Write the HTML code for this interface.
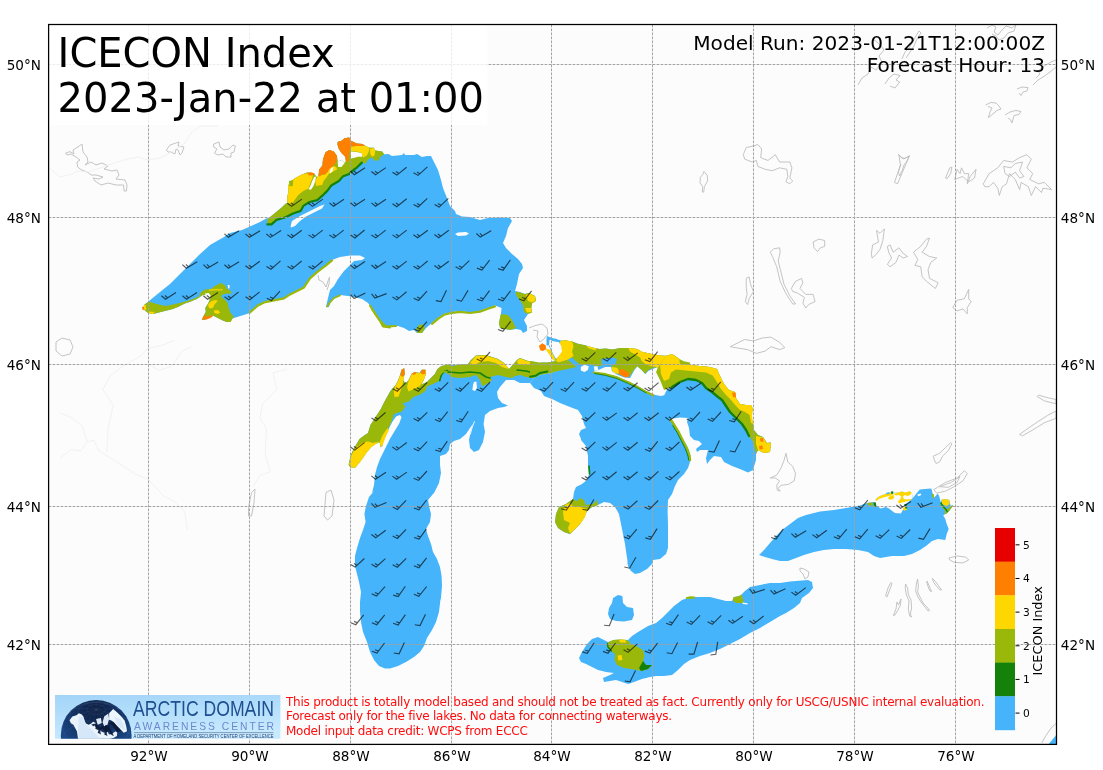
<!DOCTYPE html>
<html lang="en"><head><meta charset="utf-8"><title>ICECON Index</title>
<style>
html,body{margin:0;padding:0;background:#fff;}
body{width:1103px;height:770px;overflow:hidden;}
svg{display:block;will-change:transform;}
text{font-family:"DejaVu Sans","Liberation Sans",sans-serif;fill:#000;}
.tick{font-size:13.6px;}
.grid line{stroke:#a2a2a2;stroke-width:1;stroke-dasharray:2.7 1.3;}
.red text{fill:#ff0d0d;font-size:12px;letter-spacing:-0.24px;}
.logo text{font-family:"Liberation Sans",sans-serif;}
.cbt{font-size:10.67px;}
</style></head><body>
<svg width="1103" height="770" viewBox="0 0 1103 770">
<defs><clipPath id="ax"><rect x="48.6" y="24.5" width="1007.9" height="719.9"/></clipPath>
<linearGradient id="lg" x1="0" x2="0.25" y1="0" y2="1"><stop offset="0" stop-color="#a2d4f8"/><stop offset="1" stop-color="#c8eaff"/></linearGradient>
<radialGradient id="gl" cx="0.5" cy="0.15" r="0.85"><stop offset="0" stop-color="#0e1f42"/><stop offset="0.35" stop-color="#12305f"/><stop offset="0.75" stop-color="#1d4c8c"/><stop offset="1" stop-color="#2f66ad"/></radialGradient>
<clipPath id="lgc"><rect x="55" y="695" width="225.4" height="43.8"/></clipPath>
</defs>
<rect x="48.6" y="24.5" width="1007.9" height="719.9" fill="#fcfcfc"/>
<g clip-path="url(#ax)">

<path d="M65.6 153.0L70.0 151.6L74.0 154.0L73.0 150.0L78.0 147.0L82.0 144.0L83.0 152.0L87.0 157.0L88.0 162.0L85.0 165.0L91.0 162.0L96.0 165.0L102.0 163.0L108.0 166.0L104.0 169.0L112.0 171.0L117.0 170.0L119.0 175.0L116.0 179.0L125.0 180.0L127.0 185.0L126.4 191.0L124.0 191.0L123.6 185.0L116.0 185.0L108.0 183.0L101.0 185.0L95.0 181.0L93.0 178.0L99.0 179.0L103.0 177.0L96.0 175.0L91.0 175.0L88.0 172.4L81.0 169.6L77.6 167.0L77.0 162.0L80.0 160.0L76.0 157.0L71.0 154.0L67.0 155.0ZM166.4 150.0L170.0 145.0L176.0 143.0L179.0 142.0L178.0 146.0L184.0 147.0L182.0 153.0L180.0 155.0L178.0 150.0L176.0 149.0L175.0 154.0L171.0 152.0L168.0 152.0ZM213.6 144.0L219.0 142.0L220.0 147.0L224.0 150.0L229.0 149.0L233.0 145.0L235.4 146.0L234.0 152.0L231.0 153.0L231.0 157.0L226.0 157.0L223.0 154.0L218.0 155.0L214.4 153.0L217.0 149.0L213.6 147.0ZM743.3 154.7L746.2 147.5L753.5 146.0L757.8 144.5L761.6 148.9L760.7 157.6L768.0 160.5L775.3 154.7L779.6 162.0L789.8 162.0L791.9 167.8L789.8 178.0L792.7 180.9L789.8 183.8L786.0 181.8L787.8 176.5L786.9 169.3L779.6 167.8L772.4 170.7L765.1 169.3L757.8 166.4L756.4 160.5L752.0 162.0L744.7 159.1ZM894.5 182.4L897.5 173.6L900.4 164.9L898.9 154.7L903.3 159.1L909.1 156.2L906.2 163.5L901.8 173.6L897.5 183.8ZM945.5 178.0L949.8 167.8L951.9 167.2L950.7 173.6L946.9 178.9ZM954.8 179.5L957.1 169.3L960.0 173.6L961.5 167.8L964.4 173.6L968.7 173.6L967.3 183.8L970.2 176.5L976.0 169.3L974.5 178.0L971.6 180.0L968.7 181.8L965.8 179.5L962.9 176.5L958.5 178.0ZM983.3 183.8L989.1 173.6L997.8 167.8L1003.6 160.5L1012.4 162.0L1019.6 157.6L1026.9 154.7L1031.3 159.1L1026.9 167.8L1032.7 173.6L1029.8 179.5L1038.5 183.8L1044.4 182.4L1051.6 189.6L1042.9 188.2L1041.5 192.5L1035.6 186.7L1031.3 195.5L1028.4 186.7L1021.1 182.4L1019.6 189.6L1015.3 179.5L1009.5 173.6L1006.5 183.8L1002.2 186.7L999.3 195.5L997.8 188.2L993.5 182.4L989.1 186.7L984.7 186.7ZM1003.6 166.4L1010.9 167.8L1015.3 163.5L1022.5 162.0L1019.6 170.7L1024.0 176.5L1019.6 178.0L1015.3 172.2L1009.5 176.5L1005.1 173.6ZM813.1 242.0L818.9 239.1L824.7 240.5L824.7 246.4L820.4 247.8L817.5 251.6L814.0 247.8ZM770.3 252.2L773.8 248.7L779.6 247.8L780.2 252.2L778.2 260.9L781.1 272.5L784.0 284.2L789.8 295.8L795.6 304.0L792.7 304.0L785.5 292.9L780.2 281.3L776.7 266.7L772.4 256.5ZM791.3 288.5L795.6 281.3L801.5 278.4L802.9 282.7L800.0 288.5L805.8 294.4L813.1 294.4L815.1 301.6L808.7 304.5L805.8 308.0L802.9 303.1L804.4 297.3L797.1 292.9L792.7 291.5ZM746.2 278.4L749.1 276.9L750.5 284.2L753.5 291.5L749.1 298.7L747.6 304.5L745.3 301.6L747.1 294.4L746.2 287.1ZM871.3 253.6L872.7 244.9L878.5 242.0L876.5 230.4L880.0 233.3L884.4 228.9L882.9 240.5L880.0 249.3L875.6 255.1L872.1 258.0ZM887.3 246.4L890.2 244.9L893.1 252.2L898.9 247.8L903.3 253.6L907.6 256.5L903.3 258.0L898.9 255.1L896.0 262.4L890.2 266.7L887.3 264.4L891.6 258.0L888.7 252.2ZM913.5 252.2L920.7 246.4L926.5 239.1L929.5 238.2L926.5 246.4L922.2 252.2L929.5 256.5L936.7 258.0L930.9 262.4L928.0 269.6L929.5 278.4L938.2 282.7L935.3 288.5L926.5 281.3L922.2 276.9L920.7 266.7L914.9 265.3L917.8 259.5ZM952.7 307.5L957.1 300.2L964.4 298.7L968.7 289.4L968.7 298.7L971.1 301.6L967.3 307.5L967.3 313.9L962.9 308.9L957.1 310.9ZM736.0 343.8L744.7 339.5L753.5 340.9L762.2 338.0L770.9 337.1L779.6 342.4L784.9 347.6L779.6 349.6L770.9 346.7L765.1 351.1L756.4 353.4L747.6 349.6L738.9 348.2L730.2 346.7ZM770.3 478.0L776.7 475.1L781.1 467.8L784.0 460.5L786.0 453.3L787.8 462.0L792.7 466.4L795.6 473.6L794.2 480.9L788.4 484.4L781.1 485.3L778.2 488.2L780.2 491.1L777.3 490.2L776.7 485.3L779.6 480.9L775.3 478.0ZM933.2 456.2L939.6 453.3L945.5 447.5L950.7 442.5L951.9 443.7L948.4 450.4L942.5 456.2L939.6 462.0L936.1 463.5L934.4 460.0ZM933.8 489.6L945.5 482.4L957.1 478.0L964.4 470.7L967.3 473.6L962.9 480.9L954.2 486.7L945.5 491.1L936.7 493.1ZM939.6 486.7L951.3 482.4L960.0 476.5L957.1 482.4L948.4 487.3ZM1019.6 434.4L1029.8 427.1L1038.5 421.3L1047.3 415.5L1056.0 411.1L1056.0 418.4L1044.4 422.7L1032.7 430.0L1022.5 435.8ZM1037.1 396.5L1044.4 400.9L1056.0 403.8L1056.0 399.5L1048.7 398.0L1038.5 395.1ZM948.9 558.0L957.1 556.0L965.8 557.1L968.7 560.0L962.9 562.9L954.2 562.4L949.8 560.0ZM885.6 596.0L888.0 588.0L891.0 582.4L892.0 583.6L889.6 590.0L887.0 597.0ZM893.4 615.6L896.0 609.0L897.0 602.0L898.4 605.0L901.0 599.0L900.4 605.0L898.0 610.0L895.0 615.0ZM905.6 584.0L907.6 588.0L908.4 595.0L911.0 600.0L911.6 608.0L910.4 614.0L911.6 617.0L909.6 616.0L908.4 609.0L909.0 601.0L906.4 595.0L905.2 588.0ZM917.6 579.0L918.4 586.0L917.6 592.0L920.0 597.0L923.0 603.0L927.0 607.0L929.6 610.4L928.0 611.0L925.0 607.0L921.0 602.0L918.0 597.0L915.6 591.0L916.4 584.0ZM927.0 581.0L928.4 584.0L930.0 588.0L931.6 591.6L930.0 591.0L928.0 586.4L926.8 582.4ZM932.4 578.4L935.0 581.0L938.0 585.0L941.6 590.0L940.0 590.0L936.4 586.0L933.6 582.4ZM858.0 85.0L862.0 78.0L868.0 74.0L871.0 67.0L876.0 70.0L882.0 62.0L879.0 56.0L884.0 50.0L881.0 46.0L876.0 41.0L872.0 39.0M885.0 84.0L889.0 78.0L894.0 74.0L900.0 75.6L896.0 80.0L899.6 82.0L895.0 88.0L890.0 86.0M902.0 59.0L905.0 52.0L909.0 48.0L912.0 43.0L916.0 36.0L919.0 31.0L921.0 33.0L917.0 39.0L914.0 46.0L910.0 52.0L906.0 58.0M987.0 28.0L992.0 25.0L996.0 27.0L994.0 32.0L998.0 35.0L1002.0 30.0L1006.0 26.0L1012.0 28.0L1016.0 25.0L1014.0 31.0L1008.0 33.0L1004.0 38.0L999.0 40.0L996.0 36.0L992.0 34.0M1017.0 89.0L1022.0 87.0L1028.0 87.6L1027.0 91.0L1023.0 92.0L1021.0 95.6L1019.0 93.0M985.6 105.0L991.0 102.4L996.0 103.0L999.0 106.0L1001.0 109.0L997.0 110.4L994.0 113.0L990.0 116.4L988.4 117.6L990.0 112.0L992.0 108.0L988.0 106.4M1005.0 115.0L1010.0 112.0L1016.0 110.4L1021.0 111.6L1019.0 114.4L1014.0 115.6L1012.0 123.0L1010.4 119.6L1008.0 118.0M1033.0 85.0L1038.0 80.0L1044.0 76.4L1050.0 72.0L1056.0 67.0M1036.0 78.0L1040.0 74.0L1038.0 71.0L1044.0 66.0L1051.0 62.0L1056.0 60.0M898.0 154.0L901.0 157.6L905.0 158.4L909.6 155.6L907.0 161.0L904.0 165.0L902.0 171.0L899.6 176.0L898.4 172.0L901.0 164.0M704.0 171.5L707.3 175.5L707.6 180.9L704.5 186.4L703.6 192.2L702.2 191.8L702.7 186.7L700.0 182.7L700.4 177.3L702.7 174.5ZM56.0 342.0L62.0 338.0L70.0 340.0L73.0 347.0L70.0 354.0L62.0 356.0L56.0 351.0ZM248.5 507.5L251.5 492.5L255.0 489.0L254.0 502.5L251.5 516.0L248.5 516.0ZM324.0 516.0L326.0 492.5L331.0 490.0L334.0 500.0L332.0 516.0L327.5 520.0ZM800.0 568.0L804.0 569.0L809.0 572.0L808.0 577.0L805.0 579.0L803.0 574.0L800.0 571.0ZM529.0 328.0L535.0 325.6L542.0 324.0L547.0 328.0L548.0 334.0L544.0 339.0L540.0 342.0L537.0 337.0L538.0 331.0L533.0 330.0M318.0 275.0L319.0 280.0L323.0 282.0L326.0 287.0L328.0 281.0L329.6 277.0L329.0 284.0L327.0 290.0M1041.8 743.0L1045.0 737.0L1049.0 731.0L1052.0 727.0L1056.0 723.6" fill="none" stroke="#bdbdbd" stroke-width="0.9" stroke-linejoin="round"/>
<path d="M48.0 167.0L54.0 172.0L60.0 177.0L72.0 174.0L78.0 171.0L88.0 172.0L100.0 168.0L114.0 163.0L128.0 159.0L138.0 157.0L148.0 160.0L160.0 158.0L168.0 154.0L184.0 144.0L192.0 132.0L200.0 126.0L218.0 126.0M174.3 340.4L161.3 345.6L148.3 348.2L140.5 356.0L122.3 366.4L109.4 376.8L102.9 389.7L113.2 405.3L108.1 428.7L106.8 452.1M191.2 346.9L182.1 350.8L171.7 366.4L158.7 370.3L148.3 363.8M60.0 413.1L70.4 417.0L82.1 426.1L87.3 441.7L93.8 440.4L99.0 450.8L119.7 463.8L135.3 474.2L148.3 479.4L163.9 496.2L174.3 501.4L184.7 511.8L187.3 530.0M60.0 458.6L70.4 449.5L80.8 450.8L87.3 441.7M287.3 369.0L273.0 372.9L276.9 389.7L262.6 404.0L260.0 418.3L266.5 428.7L265.2 454.7L270.4 471.6L260.0 475.5L253.5 485.8" fill="none" stroke="#efefef" stroke-width="0.9"/>
<path d="M1048.3 744.5L1056.5 734.7L1056.5 744.5Z" fill="#46b4fa"/>
<path d="M144.0 305.0 L149.0 301.0 L160.0 292.0 L170.0 284.0 L178.0 276.0 L184.0 270.0 L194.0 260.0 L199.0 255.0 L210.0 245.0 L224.0 237.0 L230.0 233.0 L242.0 230.0 L250.0 226.4 L260.0 222.0 L268.0 217.6 L267.6 219.1 L275.3 212.7 L281.6 207.6 L285.5 203.8 L287.4 203.2 L287.4 196.2 L288.6 191.1 L288.0 186.0 L289.9 182.2 L294.4 178.4 L302.0 174.5 L307.1 172.6 L314.1 173.3 L316.0 176.5 L317.3 177.1 L318.5 175.8 L319.2 169.5 L322.4 165.6 L323.0 159.3 L325.5 152.3 L329.4 150.1 L333.8 151.6 L337.0 156.1 L337.6 161.8 L341.5 159.9 L344.6 163.1 L345.9 161.2 L345.3 156.7 L341.5 152.9 L338.9 149.1 L337.6 145.3 L337.6 142.1 L341.5 140.8 L344.6 138.3 L349.1 137.6 L351.0 140.8 L356.7 143.4 L362.5 144.0 L365.6 145.9 L369.5 147.8 L373.9 147.8 L375.2 150.4 L382.2 151.4 L384.1 154.2 L388.5 153.9 L392.0 156.0 L402.0 155.0 L404.0 153.0 L405.0 155.0 L414.0 155.0 L417.0 154.0 L422.0 157.0 L427.0 156.0 L431.0 156.0 L434.0 162.0 L438.0 170.0 L441.0 180.0 L443.0 188.0 L447.0 198.0 L450.0 206.0 L455.0 211.0 L456.0 214.0 L462.0 216.4 L470.0 217.0 L480.0 220.0 L488.0 218.0 L500.0 217.6 L510.0 218.0 L512.0 221.0 L508.0 228.0 L506.0 236.0 L503.0 243.0 L506.0 248.0 L512.0 254.0 L518.0 259.0 L522.0 264.0 L523.0 268.0 L519.0 274.0 L517.0 284.0 L515.0 291.0 L520.0 292.0 L525.0 294.0 L529.0 293.0 L535.0 296.0 L536.0 300.0 L532.0 303.0 L531.0 308.0 L532.0 312.0 L528.0 314.0 L524.0 320.0 L527.0 326.0 L527.0 331.0 L523.0 333.0 L521.0 330.0 L516.0 329.0 L510.0 330.0 L500.0 328.0 L499.0 323.0 L500.0 318.0 L501.0 313.0 L501.6 308.0 L495.0 305.6 L488.0 308.0 L480.0 311.0 L470.0 312.4 L460.0 311.0 L452.0 312.0 L444.0 314.0 L438.0 318.0 L432.0 323.0 L426.0 328.0 L422.0 333.0 L417.0 333.0 L414.0 330.0 L409.0 331.0 L404.0 328.0 L398.0 326.0 L390.0 327.0 L383.0 326.0 L380.0 320.0 L376.0 314.0 L372.0 308.0 L368.0 303.0 L362.0 299.0 L354.0 297.0 L348.0 296.0 L340.0 295.0 L334.0 298.0 L330.0 303.0 L329.0 307.0 L326.0 307.0 L328.0 298.0 L330.0 290.0 L334.0 286.0 L338.0 279.0 L344.0 271.0 L350.0 265.0 L354.0 261.0 L362.0 260.0 L365.0 258.0 L360.0 255.6 L350.0 255.6 L340.0 257.0 L332.0 260.0 L326.0 265.0 L318.0 271.0 L310.0 278.0 L304.0 287.0 L298.0 290.0 L290.0 294.0 L284.0 298.0 L274.0 300.0 L264.0 302.0 L258.0 305.0 L250.0 312.0 L250.0 313.0 L234.0 318.0 L226.0 321.0 L230.7 321.9 L226.7 321.9 L222.8 320.4 L219.8 318.9 L215.8 316.9 L212.8 315.4 L208.8 317.9 L203.8 319.9 L201.8 319.4 L203.8 315.4 L205.8 311.9 L205.3 307.9 L207.8 303.9 L209.8 299.9 L208.8 296.9 L205.8 294.4 L202.8 294.9 L196.8 298.9 L190.8 301.4 L184.9 303.4 L178.9 306.4 L172.9 308.9 L164.9 310.9 L158.9 312.4 L153.0 313.9 L148.0 312.9 L144.5 309.9 L143.5 307.4Z" fill="#46b4fa" />
<path d="M267.6 219.1 L275.3 212.7 L281.6 207.6 L285.5 203.8 L287.4 203.2 L287.4 196.2 L288.6 191.1 L288.0 186.0 L289.9 182.2 L294.4 178.4 L302.0 174.5 L307.1 172.6 L314.1 173.3 L316.0 176.5 L317.3 177.1 L318.5 175.8 L319.2 169.5 L322.4 165.6 L323.0 159.3 L325.5 152.3 L329.4 150.1 L333.8 151.6 L337.0 156.1 L337.6 161.8 L341.5 159.9 L344.6 163.1 L345.9 161.2 L345.3 156.7 L341.5 152.9 L338.9 149.1 L337.6 145.3 L337.6 142.1 L341.5 140.8 L344.6 138.3 L349.1 137.6 L351.0 140.8 L356.7 143.4 L362.5 144.0 L365.6 145.9 L369.5 147.8 L373.9 147.8 L375.2 150.4 L382.2 151.4 L384.1 154.2 L379.6 157.4 L379.0 160.5 L374.5 160.5 L372.0 157.4 L368.2 159.3 L365.6 163.7 L361.8 161.8 L356.7 166.9 L351.6 170.7 L349.1 173.3 L342.7 175.8 L338.9 180.3 L331.3 184.7 L327.5 189.8 L322.4 194.9 L317.3 199.4 L309.6 201.3 L303.3 205.1 L300.7 210.2 L293.1 212.7 L285.5 216.5 L276.5 219.1 L271.5 223.5 L267.0 224.2Z" fill="#9ab80a" />
<path d="M361.8 162.6 L356.7 167.7 L351.6 171.5 L349.1 174.0 L342.7 176.6 L338.9 181.0 L331.3 185.5 L327.5 190.6 L322.4 195.7 L317.3 200.1 L309.6 202.0 L303.3 205.9 L300.7 210.9 L293.1 213.5 L285.5 217.3 L276.5 219.9 L271.5 224.3 L267.4 224.4" fill="none" stroke="#14820a" stroke-width="2.2" stroke-linejoin="round" stroke-linecap="round" />
<path d="M288.0 186.0 L289.9 182.2 L294.4 178.4 L302.0 174.5 L307.1 173.3 L310.9 172.6 L313.5 173.3 L312.2 178.4 L310.3 183.5 L308.4 188.5 L303.3 191.1 L298.2 194.9 L295.0 199.4 L291.8 203.8 L287.4 203.2 L287.4 196.2 L288.6 191.1Z" fill="#ffd700" />
<path d="M307.1 173.0 L310.9 172.3 L314.1 173.3 L313.5 175.2 L309.0 175.6Z" fill="#ff7f00" />
<path d="M289.0 180.9 L293.3 179.9 L292.8 186.0 L289.5 186.6Z" fill="#9ab80a" />
<path d="M310.3 186.0 L312.2 180.9 L314.1 177.1 L316.0 176.5 L315.4 180.9 L313.5 186.0 L310.9 189.8 L308.4 189.2Z" fill="#fcfcfc" />
<path d="M318.5 175.8 L324.9 174.5 L327.5 172.0 L328.7 168.2 L333.8 166.3 L336.4 166.9 L337.0 169.5 L332.5 172.0 L328.7 173.9 L326.2 177.7 L323.6 180.9 L322.4 184.7 L316.0 186.0 L315.4 180.9 L317.3 177.1Z" fill="#ffd700" />
<path d="M318.5 175.8 L319.2 169.5 L322.4 165.6 L323.0 159.3 L325.5 152.3 L329.4 150.1 L333.8 151.6 L337.0 156.1 L336.4 161.8 L333.8 165.6 L330.0 168.2 L327.5 172.0 L324.9 174.5 L322.4 173.9 L319.8 176.5Z" fill="#ff7f00" />
<path d="M329.4 172.6 L331.0 168.2 L333.6 166.7 L332.8 170.5 L330.6 173.3Z" fill="#fcfcfc" />
<path d="M337.6 161.8 L341.5 159.9 L344.6 163.1 L341.5 166.9 L338.3 166.9Z" fill="#fcfcfc" />
<path d="M351.0 146.5 L356.7 145.9 L365.6 145.9 L369.5 147.8 L368.8 151.6 L366.9 155.5 L363.1 157.4 L361.8 152.9 L356.7 151.6 L351.0 151.0Z" fill="#ffd700" />
<path d="M370.1 149.1 L373.9 147.8 L375.2 150.4 L374.5 155.5 L372.0 156.7 L370.1 153.5Z" fill="#ffd700" />
<path d="M337.6 142.1 L341.5 140.8 L344.6 138.3 L349.1 137.6 L351.0 140.8 L356.7 143.4 L362.5 144.0 L364.4 145.9 L356.7 145.9 L351.0 146.5 L349.7 150.4 L349.1 155.5 L348.5 161.8 L345.9 161.2 L345.3 156.7 L341.5 152.9 L338.9 149.1 L337.6 145.3Z" fill="#ff7f00" />
<path d="M351.0 151.6 L356.7 151.9 L361.8 153.2 L362.5 156.7 L358.0 156.7 L353.5 158.0 L351.0 158.6Z" fill="#fcfcfc" />
<path d="M290.6 226.0 L292.0 221.0 L300.0 216.0 L310.0 211.0 L320.0 206.0 L324.6 204.4 L322.0 208.4 L314.0 212.4 L306.0 216.4 L300.0 221.0 L295.0 226.0 L291.0 227.6Z" fill="#fcfcfc" />
<path d="M455.0 234.0 L458.0 232.4 L466.0 232.0 L469.0 233.6 L466.0 235.6 L458.0 236.0Z" fill="#fcfcfc" />
<path d="M501.0 314.0 L508.0 315.0 L512.0 320.0 L516.0 328.0 L510.0 330.0 L500.0 328.0 L499.0 323.0 L500.0 318.0Z" fill="#9ab80a" />
<path d="M516.0 291.6 L520.0 292.4 L525.0 294.0 L529.0 293.0 L535.0 296.0 L536.0 301.0 L532.0 303.6 L531.4 308.4 L532.0 312.4 L528.0 314.0 L524.0 312.0 L523.0 305.0 L521.0 302.0 L518.0 298.0 L515.6 294.0Z" fill="#9ab80a" />
<path d="M526.0 295.0 L530.0 293.6 L535.0 296.4 L535.6 300.4 L532.0 302.4 L528.0 301.0Z" fill="#ffd700" />
<path d="M525.0 308.0 L531.0 308.0 L531.6 312.0 L527.0 312.4Z" fill="#ffd700" />
<path d="M495.0 306.4 L488.0 308.8 L480.0 311.6 L470.0 313.0 L460.0 311.8 L452.0 312.8 L444.0 314.8 L438.0 318.8 L432.0 323.8" fill="none" stroke="#9ab80a" stroke-width="2.2" stroke-linejoin="round" stroke-linecap="round" />
<path d="M372.0 309.0 L376.0 315.0 L380.0 321.0 L383.0 326.4 L390.0 327.4" fill="none" stroke="#9ab80a" stroke-width="2" stroke-linejoin="round" stroke-linecap="round" />
<path d="M417.0 333.0 L419.0 326.0 L423.0 324.0 L425.0 328.0 L422.0 333.0Z" fill="#9ab80a" />
<path d="M416.0 329.0 L420.0 324.0 L423.0 327.0 L420.0 332.4Z" fill="#9ab80a" />
<path d="M370.0 305.6 L375.0 313.6 L380.0 320.6 L386.0 326.4 L396.0 326.0" fill="none" stroke="#9ab80a" stroke-width="2" stroke-linejoin="round" stroke-linecap="round" />
<path d="M332.0 260.4 L326.0 265.4 L318.0 271.4 L310.0 278.4 L304.0 287.4 L298.0 290.4 L290.0 294.4 L284.0 298.4 L274.0 300.4 L264.0 302.4 L258.0 305.4 L250.0 312.4" fill="none" stroke="#9ab80a" stroke-width="2.2" stroke-linejoin="round" stroke-linecap="round" />
<path d="M327.0 306.6 L330.0 302.4 L334.0 298.0 L340.0 295.4" fill="none" stroke="#9ab80a" stroke-width="1.8" stroke-linejoin="round" stroke-linecap="round" />
<path d="M144.5 304.4 L149.0 301.4 L154.9 303.4 L160.9 304.9 L165.9 305.9 L172.9 304.4 L179.9 302.9 L186.9 300.9 L192.8 298.9 L198.8 296.4 L200.8 292.4 L204.8 289.4 L210.8 288.9 L214.8 286.0 L220.8 283.0 L224.8 285.0 L226.7 288.4 L231.2 291.4 L230.7 293.9 L226.7 293.4 L222.8 294.4 L220.8 296.4 L224.8 299.4 L227.7 302.9 L228.7 307.9 L230.7 312.9 L233.7 316.4 L230.7 321.9 L226.7 321.9 L222.8 320.4 L219.8 318.9 L215.8 316.9 L212.8 315.4 L208.8 317.9 L203.8 319.9 L201.8 319.4 L203.8 315.4 L205.8 311.9 L205.3 307.9 L207.8 303.9 L209.8 299.9 L208.8 296.9 L205.8 294.4 L202.8 294.9 L196.8 298.9 L190.8 301.4 L184.9 303.4 L178.9 306.4 L172.9 308.9 L164.9 310.9 L158.9 312.4 L153.0 313.9 L148.0 312.9 L144.5 309.9 L143.5 307.4Z" fill="#9ab80a" />
<path d="M148.5 311.4 L154.9 311.9 L153.0 313.9 L149.0 313.1Z" fill="#ffd700" />
<path d="M144.0 304.9 L145.8 305.1 L146.2 309.9 L144.5 309.7 L143.6 307.4Z" fill="#ffd700" />
<path d="M142.0 307.1 L143.8 306.7 L144.2 309.7 L142.6 309.9Z" fill="#ff7f00" />
<path d="M208.3 303.9 L211.8 300.9 L215.8 299.9 L217.8 300.9 L214.8 303.9 L212.8 307.9 L209.8 308.4 L208.3 306.4Z" fill="#ffd700" />
<path d="M213.8 310.4 L217.8 309.9 L220.3 312.4 L217.8 313.9 L214.3 312.9Z" fill="#ffd700" />
<path d="M202.0 319.4 L204.8 313.9 L205.8 316.9 L212.8 314.9 L212.3 316.9 L206.8 319.4Z" fill="#ff7f00" />
<path d="M208.8 289.4 L214.8 288.7 L222.8 289.1 L222.6 290.4 L214.8 290.4 L209.3 291.1Z" fill="#ffd700" opacity="0.7"/>
<path d="M204.8 293.4 L208.8 293.1 L210.8 296.1 L209.3 298.9 L206.8 296.1Z" fill="#fcfcfc" />
<path d="M227.7 285.0 L229.5 285.0 L229.5 288.4 L228.2 288.4Z" fill="#fcfcfc" />
<path d="M348.6 464.8 L350.9 454.7 L354.8 446.9 L359.5 439.1 L363.4 436.0 L368.0 432.9 L370.4 425.1 L374.3 418.9 L380.5 409.5 L385.2 400.2 L390.6 390.8 L395.3 385.4 L397.6 381.5 L400.0 375.3 L401.5 369.8 L404.2 368.2 L404.7 373.7 L403.1 379.9 L405.4 383.8 L408.6 379.9 L411.7 373.7 L414.8 372.1 L419.5 372.9 L421.8 369.8 L425.4 369.8 L425.7 374.5 L423.4 380.7 L421.0 384.6 L426.5 382.3 L430.4 378.4 L435.0 373.7 L437.4 369.0 L441.3 365.9 L450.0 364.3 L452.0 365.0 L468.0 364.0 L471.0 360.0 L476.0 355.6 L486.0 355.0 L492.0 357.0 L498.0 359.0 L504.0 363.0 L509.0 369.0 L517.0 360.0 L520.0 358.0 L528.0 361.0 L536.0 362.0 L544.0 365.0 L552.0 366.0 L560.0 365.6 L560.0 370.0 L552.0 373.0 L540.0 375.0 L534.0 378.0 L530.0 383.0 L520.0 383.0 L514.0 380.0 L506.0 380.0 L500.0 387.0 L497.0 392.0 L498.0 398.0 L502.0 403.0 L508.0 405.6 L504.0 407.0 L498.0 408.0 L490.0 411.0 L485.0 415.0 L483.6 424.0 L485.0 432.0 L483.0 442.0 L479.0 450.0 L474.0 452.0 L470.0 448.0 L469.0 440.0 L471.0 430.0 L473.0 424.0 L470.0 428.0 L466.0 434.0 L460.0 439.0 L454.0 441.0 L450.0 444.0 L449.0 450.0 L446.0 454.0 L440.0 456.0 L440.0 465.0 L441.0 473.0 L439.0 483.0 L434.0 493.0 L433.0 494.0 L428.0 500.0 L429.0 506.0 L431.0 514.0 L430.0 522.0 L426.0 529.0 L428.0 536.0 L431.0 544.0 L433.0 552.0 L437.0 559.0 L440.0 567.0 L441.6 576.0 L442.0 586.0 L441.0 598.0 L440.4 600.0 L439.0 612.0 L436.0 622.0 L432.0 630.0 L427.0 638.0 L424.0 646.0 L420.0 652.0 L414.0 657.0 L406.0 662.0 L398.0 666.0 L390.0 668.4 L385.0 668.4 L379.0 666.0 L374.0 660.0 L370.0 652.0 L367.0 642.0 L363.0 632.0 L361.0 622.0 L360.0 612.0 L360.0 600.0 L360.0 602.0 L361.0 592.0 L359.0 582.0 L357.0 574.0 L355.0 566.0 L355.0 556.0 L357.0 548.0 L360.0 538.0 L363.0 530.0 L365.6 522.0 L364.4 514.0 L366.0 506.0 L369.0 497.0 L375.0 490.0 L372.0 493.0 L374.0 485.0 L375.0 475.0 L377.0 467.0 L380.0 459.0 L385.2 448.5 L389.9 439.1 L394.5 431.3 L399.2 423.6 L401.5 417.3 L400.0 415.0 L396.1 416.5 L392.2 422.0 L388.3 429.8 L384.4 439.1 L380.8 447.7 L379.7 442.3 L375.8 443.8 L371.2 446.9 L366.5 452.4 L361.8 459.4 L355.6 467.2 L350.9 468.0Z" fill="#46b4fa" />
<path d="M348.6 464.8 L350.9 454.7 L354.8 446.9 L359.5 439.1 L363.4 436.0 L368.0 432.9 L370.4 425.1 L374.3 418.9 L380.5 409.5 L385.2 400.2 L390.6 390.8 L395.3 385.4 L397.6 381.5 L400.0 375.3 L401.5 369.8 L404.2 368.2 L404.7 373.7 L403.1 379.9 L405.4 383.8 L408.6 379.9 L411.7 373.7 L414.8 372.1 L419.5 372.9 L421.8 369.8 L425.4 369.8 L425.7 374.5 L423.4 380.7 L421.0 384.6 L426.5 382.3 L430.4 378.4 L435.0 373.7 L437.4 369.0 L441.3 365.9 L450.0 364.3 L450.0 369.8 L444.4 370.6 L441.3 375.3 L439.7 380.7 L433.5 383.8 L427.3 386.2 L424.9 391.6 L419.5 394.7 L413.2 397.1 L408.6 401.7 L402.3 403.3 L405.4 406.4 L401.5 411.9 L396.1 415.0 L393.0 417.3 L391.4 422.0 L388.3 428.2 L383.6 434.5 L382.1 439.1 L382.8 445.4 L380.8 446.9 L379.7 442.3 L375.8 443.8 L371.2 446.9 L366.5 452.4 L361.8 459.4 L355.6 467.2 L350.9 468.0Z" fill="#9ab80a" />
<path d="M349.3 464.1 L351.7 454.7 L355.6 447.7 L363.4 442.3 L368.0 441.5 L372.7 443.0 L379.7 441.5 L375.8 444.1 L371.2 447.2 L366.5 452.7 L361.8 459.7 L355.6 467.2 L350.9 468.0Z" fill="#ffd700" />
<path d="M379.7 442.3 L382.1 436.0 L385.2 431.3 L387.5 428.2 L389.1 429.8 L386.0 436.0 L382.8 444.6 L380.8 446.9Z" fill="#ffd700" />
<path d="M395.3 386.2 L398.4 380.7 L400.0 375.3 L404.2 376.8 L403.1 380.7 L402.3 386.2 L400.0 392.4 L398.4 396.8 L394.5 397.1 L393.8 391.6Z" fill="#ffd700" />
<path d="M408.6 380.7 L411.7 374.5 L414.8 372.5 L419.5 373.4 L425.4 370.6 L425.7 374.5 L423.4 380.7 L419.5 386.2 L414.8 388.5 L408.6 391.6 L407.0 386.9Z" fill="#ffd700" />
<path d="M400.5 375.3 L401.7 369.8 L404.2 368.2 L404.7 374.5 L402.3 376.8Z" fill="#ff7f00" />
<path d="M412.0 373.7 L414.8 371.8 L416.3 373.7 L413.2 374.9Z" fill="#ff7f00" />
<path d="M420.7 372.9 L422.0 369.8 L425.4 369.8 L425.4 373.7 L422.6 374.5Z" fill="#ff7f00" />
<path d="M393.0 415.0 L396.9 413.0 L401.5 411.4 L402.0 413.4 L396.1 416.1 L393.8 417.6Z" fill="#46b4fa" />
<path d="M439.7 380.7 L441.3 375.3 L444.4 371.0 L449.1 370.3" fill="none" stroke="#14820a" stroke-width="1.5" stroke-linejoin="round" stroke-linecap="round" />
<path d="M446.0 364.6 L452.0 366.0 L460.0 364.6 L468.0 364.0 L468.0 364.0 L471.0 360.0 L476.0 355.6 L486.0 355.0 L492.0 357.0 L498.0 359.0 L504.0 363.0 L509.0 369.0 L517.0 360.0 L520.0 358.0 L528.0 361.0 L536.0 362.0 L544.0 365.0 L552.0 366.0 L560.0 365.6 L570.0 366.0 L578.0 367.0 L570.0 369.0 L560.0 370.0 L552.0 373.0 L540.0 375.0 L534.0 378.0 L526.0 377.0 L520.0 375.0 L515.0 376.0 L512.0 378.0 L506.0 377.0 L498.0 375.0 L490.0 377.0 L492.0 380.0 L487.0 384.0 L482.0 386.0 L480.0 380.0 L476.0 375.0 L470.0 377.0 L460.0 378.0 L451.0 377.0 L448.0 371.0 L440.0 370.0 L434.0 382.0 L438.0 377.0 L444.0 372.0 L450.0 375.0Z" fill="#9ab80a" />
<path d="M470.0 363.0 L476.0 356.0 L486.0 355.4 L492.0 357.4 L498.0 359.4 L504.0 363.4 L509.0 369.0 L502.0 367.0 L496.0 363.0 L488.0 361.0 L480.0 362.0 L474.0 365.0Z" fill="#ffd700" />
<path d="M517.0 361.0 L520.0 358.4 L528.0 361.4 L536.0 362.4 L535.0 364.4 L526.0 364.4 L518.0 364.0Z" fill="#ffd700" />
<path d="M448.0 372.0 L460.0 373.0 L470.0 372.0 L480.0 373.0 L486.0 377.0 L490.0 378.0" fill="none" stroke="#14820a" stroke-width="1.6" stroke-linejoin="round" stroke-linecap="round" />
<path d="M517.0 370.0 L526.0 371.0 L534.0 373.0 L540.0 372.0" fill="none" stroke="#14820a" stroke-width="1.6" stroke-linejoin="round" stroke-linecap="round" />
<path d="M474.0 382.0 L476.4 381.6 L477.0 388.0 L475.0 391.0 L472.4 390.0 L473.0 385.0Z" fill="#fcfcfc" />
<path d="M474.4 421.6 L472.0 428.0 L470.4 434.0" fill="none" stroke="#fcfcfc" stroke-width="0.9" stroke-linejoin="round" stroke-linecap="round" />
<path d="M560.0 365.6 L560.0 370.0 L552.0 373.0 L540.0 375.0 L534.0 378.0 L530.0 383.0 L534.0 388.0 L541.0 391.0 L544.0 396.0 L552.0 399.0 L560.0 403.0 L570.0 407.0 L578.0 410.0 L582.0 416.0 L584.0 424.0 L586.0 428.0 L581.0 430.0 L579.0 434.0 L581.0 439.0 L581.0 440.0 L586.0 446.0 L588.0 456.0 L588.0 466.0 L589.0 474.0 L587.0 480.0 L582.0 484.0 L576.0 487.0 L574.0 492.0 L573.0 499.0 L566.0 504.0 L559.0 507.0 L556.0 514.0 L555.0 522.0 L558.0 528.0 L564.0 532.0 L570.0 534.0 L575.0 529.0 L580.0 524.0 L584.0 518.0 L587.0 511.0 L592.0 507.0 L598.0 505.0 L604.0 502.0 L610.0 503.0 L615.0 507.0 L619.0 514.0 L621.0 524.0 L623.0 534.0 L625.0 544.0 L626.4 554.0 L628.0 564.0 L630.0 571.0 L627.0 560.0 L628.0 566.0 L631.0 571.0 L635.0 574.0 L640.0 573.0 L647.0 569.0 L652.0 564.0 L653.0 560.0 L638.0 573.0 L646.0 569.0 L651.0 564.0 L653.0 560.0 L660.0 559.0 L666.0 554.0 L668.0 548.0 L668.0 536.0 L668.0 524.0 L667.6 512.0 L668.0 500.0 L672.0 494.0 L675.0 486.0 L678.0 480.0 L684.0 474.0 L688.0 468.0 L690.0 462.0 L690.4 456.0 L689.0 450.0 L686.0 444.0 L683.0 440.0 L690.4 462.0 L690.0 456.0 L687.0 448.0 L683.0 440.0 L679.0 432.0 L674.0 424.0 L670.0 419.0 L673.0 418.4 L680.0 417.6 L688.0 418.0 L687.0 422.0 L689.0 428.0 L690.0 436.0 L694.0 440.0 L699.0 441.0 L702.0 444.0 L696.0 449.0 L697.0 452.0 L700.0 450.0 L708.0 450.0 L706.0 458.0 L707.0 464.0 L710.0 460.0 L714.0 456.0 L721.0 457.0 L724.0 462.0 L732.0 466.0 L740.0 469.0 L748.0 472.4 L753.0 470.0 L756.0 460.0 L756.0 454.0 L758.0 450.0 L764.0 453.0 L770.0 452.0 L771.0 442.4 L767.0 443.0 L763.0 437.0 L758.0 435.0 L754.0 430.0 L753.0 424.0 L751.0 416.0 L753.0 409.0 L751.0 405.0 L746.0 405.0 L740.0 404.0 L736.0 398.0 L735.0 392.0 L729.0 390.0 L724.0 384.0 L720.0 376.0 L717.0 369.0 L710.0 367.0 L700.0 366.0 L690.0 365.0 L680.0 364.0 L679.0 359.0 L672.0 354.0 L666.0 356.0 L656.0 357.0 L646.0 354.0 L636.0 350.0 L630.0 348.0 L620.0 349.0 L679.4 359.0 L675.1 356.1 L671.4 353.9 L669.3 356.1 L660.6 355.4 L651.8 353.9 L641.7 351.8 L637.3 348.9 L628.6 348.1 L619.9 348.1 L612.7 349.6 L605.4 348.6 L599.6 348.9 L592.4 347.4 L585.1 345.2 L577.9 343.8 L572.1 341.6 L564.8 340.2 L559.7 340.9 L556.1 338.7 L551.8 338.0 L547.4 336.5 L546.7 340.2 L548.1 344.5 L550.3 348.9 L551.8 354.7 L554.7 361.2 L547.4 362.6 L538.7 362.6 L530.0 361.2Z" fill="#46b4fa" />
<path d="M559.7 340.9 L564.8 340.2 L572.1 341.6 L577.9 343.8 L585.1 345.2 L592.4 347.4 L599.6 348.9 L605.4 348.6 L612.7 349.6 L619.9 348.1 L628.6 348.1 L637.3 348.9 L641.7 351.8 L651.8 353.9 L660.6 355.4 L669.3 356.1 L671.4 353.9 L675.1 356.1 L679.4 359.0 L683.8 361.2 L690.0 362.6 L690.0 377.9 L683.8 377.9 L675.1 380.0 L669.3 378.6 L664.2 381.5 L662.0 376.4 L658.4 372.1 L656.9 367.0 L651.8 368.4 L647.5 370.6 L645.3 373.5 L641.7 369.9 L637.3 366.3 L634.4 369.2 L631.5 373.5 L628.6 377.1 L617.0 373.5 L612.0 370.6 L611.2 366.3 L605.4 364.1 L599.6 366.3 L593.8 365.5 L589.5 364.1 L583.7 364.8 L579.3 364.1 L575.7 361.2 L572.1 357.6 L567.7 359.7 L559.0 362.6 L554.7 361.2 L557.6 354.7 L559.7 347.4Z" fill="#9ab80a" />
<path d="M559.7 340.9 L564.8 340.2 L572.1 341.6 L573.5 346.0 L572.1 351.8 L573.5 356.1 L567.7 359.7 L559.0 362.6 L556.1 361.2 L558.3 354.7 L560.5 348.9Z" fill="#ffd700" />
<path d="M545.2 348.9 L550.3 349.6 L553.2 354.7 L556.1 361.2 L551.8 359.0 L548.9 353.9Z" fill="#ffd700" />
<path d="M539.0 345.7 L542.3 343.3 L545.7 345.2 L546.2 349.1 L543.1 351.0 L540.2 350.3Z" fill="#ff7f00" />
<path d="M586.6 345.7 L592.4 347.4 L596.7 348.6 L595.3 350.3 L588.0 348.1Z" fill="#ffd700" />
<path d="M628.6 348.1 L637.3 348.9 L641.7 351.8 L651.8 353.9 L660.6 355.4 L669.3 356.1 L671.4 353.9 L675.1 356.1 L679.4 359.0 L679.4 364.1 L673.6 365.5 L671.4 373.5 L669.3 378.6 L664.2 381.5 L662.0 376.4 L658.4 372.1 L656.9 367.0 L651.8 366.3 L646.0 364.8 L641.7 361.2 L640.2 357.6 L634.4 353.9 L630.1 351.8Z" fill="#ffd700" />
<path d="M641.7 361.2 L646.0 364.8 L648.9 364.1 L647.5 370.6 L645.3 373.5 L641.7 369.9 L638.1 366.3 L638.8 362.6Z" fill="#9ab80a" />
<path d="M618.5 369.9 L622.8 368.9 L626.5 371.3 L629.4 373.5 L628.6 377.6 L624.3 377.1 L619.2 374.2Z" fill="#ff7f00" />
<path d="M612.0 367.0 L617.0 367.7 L618.5 369.9 L618.8 373.5 L615.6 373.5 L612.4 371.3Z" fill="#ffd700" />
<path d="M601.1 359.0 L606.9 358.3 L613.4 357.6 L617.0 359.0 L615.6 364.1 L611.2 366.3 L605.4 364.1 L601.8 364.8Z" fill="#46b4fa" />
<path d="M549.6 339.6 L559.0 342.2 L561.2 346.0 L561.9 351.8 L559.0 355.4 L556.1 359.0 L553.2 353.9 L551.0 348.9 L549.1 344.5Z" fill="#fcfcfc" />
<path d="M547.4 344.5 L547.7 337.3 L553.2 340.2 L559.7 340.9" fill="none" stroke="#46b4fa" stroke-width="2" stroke-linejoin="round" stroke-linecap="round" />
<path d="M593.8 371.3 L598.2 369.9 L605.4 367.0 L611.2 367.0 L612.0 371.3 L616.3 374.2 L624.3 377.6 L630.1 377.9 L634.4 369.9 L637.3 366.6 L641.7 370.3 L645.3 374.2 L648.2 370.9 L652.6 368.9 L656.9 367.4 L658.8 372.8 L662.3 377.1 L664.2 381.9 L668.5 379.3 L672.9 378.6 L671.4 384.4 L667.1 389.5 L664.2 395.3 L660.6 396.0 L653.3 394.6 L646.0 390.9 L637.3 385.8 L628.6 381.5 L617.0 376.4 L605.4 373.5 L593.8 372.1Z" fill="#fcfcfc" />
<path d="M580.8 367.0 L584.4 364.8 L588.7 366.3 L588.0 369.9 L584.4 372.1 L580.8 370.6Z" fill="#fcfcfc" />
<path d="M593.8 366.6 L597.5 366.3 L598.2 369.9 L594.6 370.9Z" fill="#fcfcfc" />
<path d="M593.8 372.5 L605.4 374.2 L617.0 377.4 L628.6 382.5 L637.3 386.9 L646.0 391.9 L653.3 395.3" fill="none" stroke="#9ab80a" stroke-width="2.2" stroke-linejoin="round" stroke-linecap="round" />
<path d="M594.6 373.5 L605.4 375.4 L617.0 378.6 L628.6 383.7 L637.3 388.0 L646.0 392.8" fill="none" stroke="#14820a" stroke-width="0.9" stroke-linejoin="round" stroke-linecap="round" />
<path d="M530.0 361.2 L538.7 362.6 L547.4 362.6 L554.7 361.2 L559.0 362.6 L567.7 359.7 L576.4 367.0 L566.3 369.2 L556.1 371.3 L547.4 372.1 L540.2 373.5 L535.8 376.4 L530.0 377.9Z" fill="#9ab80a" />
<path d="M530.0 376.7 L535.8 375.7 L540.2 372.9 L547.4 371.5" fill="none" stroke="#14820a" stroke-width="2" stroke-linejoin="round" stroke-linecap="round" />
<path d="M666.0 356.0 L672.0 354.0 L679.0 359.0 L680.0 364.0 L690.0 365.0 L700.0 366.0 L710.0 367.0 L717.0 369.0 L720.0 376.0 L724.0 384.0 L729.0 390.0 L735.0 392.0 L736.0 398.0 L740.0 404.0 L746.0 405.0 L751.0 405.0 L753.0 409.0 L751.0 416.0 L753.0 424.0 L754.0 430.0 L758.0 435.0 L763.0 437.0 L767.0 443.0 L771.0 442.4 L770.0 452.0 L764.0 453.0 L758.0 450.0 L756.0 454.0 L754.0 446.0 L752.0 440.0 L749.0 436.0 L746.0 430.0 L742.0 424.0 L736.0 418.0 L730.0 412.0 L726.0 406.0 L722.0 400.0 L718.0 397.0 L712.0 392.0 L706.0 388.0 L702.0 383.0 L696.0 380.0 L688.0 379.0 L680.0 382.0 L672.0 387.0 L664.0 390.0 L660.0 380.0 L656.0 372.0 L660.0 364.0Z" fill="#9ab80a" />
<path d="M660.0 364.0 L666.0 356.0 L672.0 354.0 L679.0 359.0 L680.0 364.0 L690.0 365.0 L700.0 366.0 L710.0 367.0 L717.0 369.0 L720.0 376.0 L724.0 384.0 L729.0 390.0 L735.0 392.0 L736.0 398.0 L740.0 404.0 L746.0 405.0 L751.0 405.0 L753.0 409.0 L752.0 416.0 L753.6 424.0 L751.0 423.0 L749.6 415.0 L745.0 412.0 L740.0 410.0 L736.0 406.0 L731.0 400.0 L725.6 394.4 L720.6 388.4 L716.6 381.4 L712.6 375.6 L706.0 372.6 L696.0 371.6 L686.0 370.6 L676.0 369.6 L671.0 372.4 L669.0 379.0 L664.0 381.0 L661.0 374.0Z" fill="#ffd700" />
<path d="M749.0 436.0 L746.0 430.0 L742.0 424.0 L736.0 418.0 L730.0 412.0 L726.0 406.0 L722.0 400.0 L718.0 397.0 L712.0 392.0 L706.0 388.0 L702.0 383.0 L696.0 380.0 L688.0 379.0 L680.0 382.0 L672.0 387.0" fill="none" stroke="#14820a" stroke-width="2.4" stroke-linejoin="round" stroke-linecap="round" />
<path d="M756.0 436.0 L763.0 437.4 L767.0 443.4 L771.0 442.8 L770.0 452.0 L764.0 453.0 L758.0 450.0 L756.0 444.0Z" fill="#ffd700" />
<path d="M732.0 392.4 L735.6 392.4 L736.0 397.6 L733.0 397.0Z" fill="#ff7f00" />
<path d="M760.0 438.0 L763.0 438.0 L763.6 442.0 L760.4 441.6Z" fill="#ff7f00" />
<path d="M759.0 446.0 L762.4 445.6 L763.0 449.0 L759.6 449.6Z" fill="#ff7f00" />
<path d="M690.0 460.0 L689.6 456.0 L686.6 448.0 L682.6 440.0 L678.6 432.0 L673.6 424.0 L671.0 420.0" fill="none" stroke="#9ab80a" stroke-width="2.4" stroke-linejoin="round" stroke-linecap="round" />
<path d="M688.6 460.0 L688.0 456.0 L685.2 448.4 L681.2 440.6 L677.4 433.0 L672.8 425.6" fill="none" stroke="#14820a" stroke-width="1" stroke-linejoin="round" stroke-linecap="round" />
<path d="M573.0 499.0 L566.0 504.0 L559.0 507.0 L556.0 514.0 L555.0 522.0 L558.0 528.0 L564.0 532.0 L570.0 534.0 L575.0 529.0 L580.0 524.0 L584.0 518.0 L587.0 511.0 L592.0 507.0 L598.0 505.0 L597.0 500.0 L593.0 504.0 L585.6 505.0 L584.0 500.0 L580.0 498.0 L577.0 501.0Z" fill="#9ab80a" />
<path d="M565.0 505.0 L570.0 503.0 L573.0 507.0 L580.0 507.0 L587.0 509.0 L585.0 517.0 L580.0 524.0 L575.0 529.0 L570.0 533.6 L568.0 528.0 L570.0 523.0 L564.0 520.0 L563.0 512.0Z" fill="#ffd700" />
<path d="M589.0 466.0 L589.6 474.0" fill="none" stroke="#14820a" stroke-width="1.6" stroke-linejoin="round" stroke-linecap="round" />
<path d="M579.0 658.0 L582.0 652.0 L587.0 644.0 L592.0 639.0 L598.0 637.0 L604.0 640.0 L608.0 642.0 L614.0 640.0 L620.0 639.6 L628.0 640.0 L632.0 636.0 L638.0 632.0 L648.0 626.0 L656.0 623.0 L662.0 618.0 L668.0 612.0 L674.0 606.0 L682.0 600.0 L690.0 597.0 L700.0 597.0 L710.0 597.0 L718.0 599.0 L726.0 601.0 L732.0 601.0 L734.0 597.0 L739.0 596.0 L741.6 594.4 L744.4 591.6 L750.0 587.0 L760.0 585.0 L770.0 583.0 L780.0 583.0 L790.0 581.6 L796.0 581.0 L808.0 580.0 L812.0 582.0 L813.0 588.0 L809.0 593.0 L802.0 598.0 L800.0 603.0 L794.0 608.0 L786.0 613.0 L780.0 616.0 L770.0 622.0 L760.0 628.0 L750.0 633.0 L740.0 639.0 L730.0 644.0 L720.0 649.0 L710.0 653.0 L700.0 656.0 L690.0 660.0 L684.0 664.0 L678.0 670.0 L672.0 675.0 L664.0 676.0 L656.0 676.0 L650.0 677.0 L642.0 679.0 L634.0 682.0 L628.0 684.0 L622.0 682.0 L616.0 680.0 L610.0 681.0 L604.0 682.0 L603.0 678.0 L610.0 675.0 L614.0 673.0 L606.0 672.0 L598.0 670.0 L592.0 667.0 L586.0 664.0 L581.0 662.0Z" fill="#46b4fa" />
<path d="M607.0 643.0 L613.0 640.0 L620.0 639.6 L628.0 640.4 L631.0 644.0 L638.0 647.0 L643.0 650.0 L644.4 656.0 L643.0 662.0 L646.0 665.0 L652.0 665.0 L648.0 669.0 L642.0 671.0 L634.0 669.6 L624.0 668.0 L617.0 665.0 L614.4 660.0 L615.0 654.0 L611.0 651.0 L607.0 647.0Z" fill="#9ab80a" />
<path d="M643.0 661.0 L646.0 665.0 L652.0 665.0 L648.0 669.0 L641.0 671.0 L639.0 668.0Z" fill="#14820a" />
<path d="M607.4 643.6 L608.0 647.0 L611.4 651.0" fill="none" stroke="#14820a" stroke-width="1.4" stroke-linejoin="round" stroke-linecap="round" />
<path d="M619.0 639.6 L625.0 639.6 L626.4 642.4 L620.0 642.4Z" fill="#ffd700" />
<path d="M617.6 655.6 L621.6 655.0 L622.4 660.0 L618.4 660.4Z" fill="#ffd700" />
<path d="M733.0 597.6 L739.0 596.0 L741.6 594.8 L743.2 600.0 L743.6 603.0 L736.0 603.0 L733.0 601.0Z" fill="#9ab80a" />
<path d="M742.4 602.4 L747.6 603.2 L747.8 604.6 L742.8 604.0Z" fill="#fcfcfc" />
<path d="M686.0 597.2 L690.0 596.2 L695.0 596.6 L695.0 598.4 L686.0 599.0Z" fill="#9ab80a" />
<path d="M618.0 595.0 L622.4 596.0 L623.0 603.0 L627.0 607.0 L633.0 608.0 L634.0 615.0 L632.0 620.0 L624.0 621.6 L616.0 621.0 L610.0 619.0 L608.0 614.0 L609.0 608.0 L612.0 603.0 L613.0 598.0Z" fill="#46b4fa" />
<path d="M759.0 555.0 L764.0 550.0 L770.0 543.0 L776.0 536.0 L782.0 530.0 L790.0 524.0 L798.0 518.0 L806.0 515.0 L820.0 511.6 L834.0 510.0 L846.0 508.0 L852.0 507.0 L860.0 505.6 L864.0 503.9 L868.0 502.7 L874.9 502.1 L875.4 499.4 L878.9 496.5 L884.9 494.0 L887.9 493.0 L891.9 492.5 L897.9 492.5 L901.9 491.5 L905.9 492.5 L909.4 491.2 L911.8 492.5 L912.8 498.0 L916.8 493.0 L919.8 489.5 L924.8 489.0 L931.3 488.5 L932.3 492.0 L933.8 498.0 L937.8 493.5 L939.3 496.5 L940.8 502.4 L941.8 499.4 L945.3 498.9 L949.2 499.9 L950.7 505.9 L953.2 504.9 L952.2 506.9 L949.2 510.9 L946.7 513.4 L944.3 514.4 L943.3 515.4 L945.3 518.9 L946.7 523.9 L948.7 528.9 L946.7 533.9 L945.3 540.0 L938.0 539.0 L932.0 541.0 L926.0 546.0 L920.0 550.0 L912.0 554.0 L904.0 556.0 L892.0 556.0 L880.0 558.0 L874.0 556.0 L868.0 552.0 L858.0 550.0 L846.0 549.0 L834.0 549.0 L824.0 550.0 L814.0 552.0 L804.0 555.0 L796.0 558.0 L788.0 561.0 L780.0 561.0 L772.0 559.0 L765.0 557.0Z" fill="#46b4fa" />
<path d="M875.4 499.4 L878.9 496.5 L884.9 494.0 L887.9 493.0 L891.9 492.5 L897.9 492.5 L901.9 491.5 L905.9 492.5 L909.4 491.2 L911.8 492.5 L912.8 498.0 L908.9 501.4 L903.9 504.9 L905.9 506.4 L906.9 509.9 L902.9 509.9 L900.9 513.4 L894.9 512.9 L888.9 508.4 L885.9 506.9 L880.9 508.4 L876.4 505.9 L874.9 502.1Z" fill="#fcfcfc" />
<path d="M875.4 499.4 L878.9 496.5 L884.9 494.0 L887.9 493.0 L891.9 492.5 L892.9 495.0 L888.9 496.0 L884.9 497.0 L878.9 498.9 L876.4 500.9Z" fill="#ffd700" />
<path d="M887.9 498.0 L889.9 496.0 L893.4 495.0 L894.4 497.5 L892.4 499.4 L889.4 499.4Z" fill="#ffd700" />
<path d="M893.4 494.0 L897.9 492.5 L901.9 491.5 L905.9 492.5 L909.4 491.2 L911.8 492.5 L910.3 495.0 L907.4 496.0 L904.9 495.0 L902.9 496.5 L903.9 498.9 L906.9 499.4 L911.8 498.9 L910.3 500.4 L905.9 501.4 L901.9 502.4 L898.9 503.4 L897.9 501.4 L900.4 498.9 L901.4 496.5 L898.9 495.0 L895.9 495.5Z" fill="#ffd700" />
<path d="M903.4 507.4 L905.9 506.9 L906.9 509.4 L904.4 510.7 L902.9 509.4Z" fill="#ffd700" />
<path d="M873.4 502.4 L875.9 502.4 L876.4 507.1 L874.4 506.7Z" fill="#14820a" />
<path d="M890.9 491.5 L893.1 491.2 L893.4 493.8 L891.4 494.0Z" fill="#14820a" />
<path d="M904.4 504.1 L906.7 503.9 L907.1 508.7 L905.4 508.4Z" fill="#14820a" />
<path d="M867.0 502.9 L872.5 502.4 L873.4 505.4 L868.0 505.4Z" fill="#9ab80a" />
<path d="M885.9 493.0 L889.4 492.0 L889.9 493.5 L886.9 494.5Z" fill="#46b4fa" />
<path d="M941.8 499.4 L945.3 498.9 L949.2 499.9 L949.7 503.9 L946.7 506.1 L943.8 504.9 L941.8 503.4Z" fill="#ffd700" />
<path d="M940.3 502.4 L942.3 504.9 L944.8 507.9 L948.2 508.9 L950.7 505.9 L953.2 504.9 L952.2 506.9 L949.2 510.9 L946.7 513.4 L944.3 514.4 L945.3 511.4 L943.3 508.4 L940.8 505.9Z" fill="#9ab80a" />
<path d="M941.0 503.1 L942.8 506.1 L945.3 508.7 L947.2 511.4" fill="none" stroke="#14820a" stroke-width="1.4" stroke-linejoin="round" stroke-linecap="round" />
<path d="M931.8 494.0 L933.8 494.0 L934.3 498.4 L932.6 498.0Z" fill="#9ab80a" />
<path d="M917.3 494.5 L920.8 493.5 L921.3 495.0 L918.3 496.2Z" fill="#fcfcfc" />
<g class="grid">
<line x1="148.5" y1="24.5" x2="148.5" y2="744.4"/>
<line x1="249.5" y1="24.5" x2="249.5" y2="744.4"/>
<line x1="350.5" y1="24.5" x2="350.5" y2="744.4"/>
<line x1="451.5" y1="24.5" x2="451.5" y2="744.4"/>
<line x1="551.5" y1="24.5" x2="551.5" y2="744.4"/>
<line x1="652.5" y1="24.5" x2="652.5" y2="744.4"/>
<line x1="753.5" y1="24.5" x2="753.5" y2="744.4"/>
<line x1="854.5" y1="24.5" x2="854.5" y2="744.4"/>
<line x1="955.5" y1="24.5" x2="955.5" y2="744.4"/>
<line x1="48.6" y1="64.5" x2="1056.5" y2="64.5"/>
<line x1="48.6" y1="217.5" x2="1056.5" y2="217.5"/>
<line x1="48.6" y1="364.5" x2="1056.5" y2="364.5"/>
<line x1="48.6" y1="506.5" x2="1056.5" y2="506.5"/>
<line x1="48.6" y1="644.5" x2="1056.5" y2="644.5"/>
</g>
<g fill="none" stroke="#000" stroke-width="1.15" stroke-opacity="0.64" stroke-linecap="butt" stroke-linejoin="miter">
<path d="M350.4 171.3L354.5 174.7L365.0 167.7M356.7 173.2L353.9 171.0M371.4 171.5L375.6 174.8L385.9 167.6M377.7 173.3L374.9 171.1M392.5 172.2L396.9 175.1L406.6 167.2M398.9 173.5L395.9 171.5M413.5 172.7L418.1 175.4L427.4 166.9M420.0 173.7L416.9 171.9M287.4 203.2L291.6 206.4L301.9 199.1M293.7 204.9L290.9 202.7M308.4 203.2L312.6 206.4L322.9 199.1M314.7 204.9L311.9 202.7M329.4 202.9L333.5 206.2L344.0 199.2M335.7 204.8L332.9 202.5M350.4 202.7L354.5 206.1L365.0 199.3M356.6 204.7L353.9 202.4M371.4 202.9L375.5 206.2L386.0 199.2M377.7 204.8L374.9 202.5M392.5 203.7L396.8 206.7L406.7 198.8M398.9 205.0L395.9 203.0M413.6 204.4L418.2 207.0L427.3 198.4M420.1 205.3L416.9 203.5M434.6 204.5L439.2 207.1L448.3 198.3M441.1 205.3L437.9 203.5M224.4 233.9L228.4 237.3L239.1 230.7M230.6 236.0L227.9 233.6M245.4 233.9L249.4 237.3L260.1 230.7M251.6 236.0L248.9 233.6M266.4 234.0L270.4 237.4L281.1 230.6M272.6 236.0L269.9 233.7M287.4 234.7L291.7 237.8L301.8 230.2M293.8 236.2L290.9 234.2M308.5 234.9L312.8 237.9L322.7 230.1M314.9 236.3L311.9 234.3M329.4 234.9L333.8 237.9L343.7 230.1M335.8 236.3L332.9 234.2M350.5 235.0L354.9 238.0L364.6 230.0M356.9 236.3L353.9 234.3M371.4 234.9L375.8 237.9L385.7 230.1M377.8 236.3L374.9 234.2M392.5 234.9L396.8 237.9L406.7 230.1M398.9 236.3L395.9 234.3M413.4 234.7L417.7 237.8L427.8 230.2M419.8 236.2L416.9 234.1M434.4 234.5L438.7 237.7L448.8 230.3M440.8 236.2L437.9 234.0M476.4 233.5L480.3 237.1L491.2 230.8M482.5 235.8L479.9 233.4M182.4 264.6L186.3 268.2L197.2 261.8M188.6 266.9L185.9 264.5M203.4 264.6L207.3 268.2L218.2 261.9M209.5 266.9L206.9 264.4M224.4 264.8L228.4 268.3L239.1 261.8M230.6 267.0L227.9 264.6M245.4 265.7L249.7 268.8L259.8 261.2M251.8 267.3L248.9 265.2M266.5 266.4L271.0 269.2L280.5 260.9M273.0 267.5L269.9 265.6M287.5 266.2L291.9 269.1L301.6 261.0M293.9 267.4L290.9 265.5M308.5 266.2L312.9 269.1L322.6 261.0M314.9 267.4L311.9 265.4M350.4 265.1L354.5 268.5L365.0 261.6M356.6 267.0L353.9 264.7M371.4 265.0L375.5 268.5L386.0 261.6M377.6 267.0L374.9 264.7M392.5 266.0L396.8 269.0L406.7 261.1M398.9 267.3L395.9 265.3M413.5 266.2L417.9 269.1L427.6 261.0M419.9 267.4L416.9 265.4M434.4 265.5L438.7 268.7L448.8 261.3M440.8 267.2L437.9 265.0M455.6 266.8L460.2 269.4L469.3 260.7M462.1 267.6L458.9 265.9M476.9 268.1L481.9 270.0L489.6 260.1M483.5 267.9L480.1 266.7M498.1 268.6L503.1 270.2L510.4 259.9M504.6 268.1L501.2 266.9M161.4 295.8L165.5 299.2L176.0 292.4M167.6 297.8L164.9 295.5M182.4 295.8L186.5 299.2L197.0 292.4M188.6 297.8L185.9 295.5M203.4 295.8L207.5 299.2L218.0 292.4M209.6 297.8L206.9 295.5M224.5 296.8L228.8 299.8L238.7 291.9M230.9 298.1L227.9 296.1M245.5 296.8L249.9 299.8L259.6 291.9M251.9 298.1L248.9 296.1M266.7 298.3L271.5 300.5L280.0 291.1M273.3 298.6L270.0 297.0M350.5 294.6L354.1 298.5L365.4 293.1M356.4 297.4L354.0 294.7M371.6 293.9L374.9 298.1L386.6 293.6M377.3 297.1L375.1 294.3M392.5 297.0L396.9 299.9L406.6 291.8M398.9 298.2L395.9 296.2M413.7 298.3L418.5 300.5L427.0 291.1M420.3 298.6L417.0 297.0M435.8 300.6L441.0 301.5L446.5 290.2M456.4 299.9L461.5 301.2L468.0 290.4M477.0 299.2L482.0 300.9L489.5 290.7M483.6 298.8L480.2 297.6M498.0 299.0L503.0 300.8L510.5 290.8M504.5 298.8L501.1 297.5M519.0 299.0L523.9 300.8L531.6 290.8M525.5 298.8L522.1 297.5M413.7 328.9L418.6 331.1L426.9 321.7M420.3 329.1L417.0 327.6M498.0 329.5L502.9 331.4L510.6 321.4M504.5 329.3L501.1 328.0M476.7 359.1L481.5 361.4L490.0 352.0M483.3 359.4L480.0 357.9M581.6 358.5L586.2 361.1L595.3 352.3M588.1 359.3L584.9 357.5M602.6 358.5L607.2 361.1L616.3 352.3M609.1 359.3L605.9 357.5M623.4 357.4L627.7 360.5L637.8 352.9M629.8 358.9L626.9 356.8M644.9 359.7L649.9 361.6L657.6 351.7M651.5 359.6L648.1 358.3M392.6 388.8L397.3 391.2L406.2 382.3M399.1 389.4L396.0 387.7M413.6 388.8L418.3 391.3L427.2 382.3M420.2 389.4L417.0 387.7M434.6 388.7L439.3 391.2L448.2 382.3M441.1 389.4L438.0 387.7M455.6 388.7L460.3 391.2L469.2 382.3M462.1 389.4L459.0 387.7M476.7 389.2L481.5 391.4L490.0 382.1M483.3 389.5L480.0 388.0M539.7 389.0L544.4 391.3L553.1 382.2M546.2 389.5L543.0 387.8M560.7 389.1L565.5 391.4L574.0 382.2M567.2 389.5L564.0 387.9M581.6 388.6L586.2 391.1L595.3 382.4M588.1 389.3L584.9 387.6M602.6 388.6L607.2 391.1L616.3 382.4M609.1 389.3L605.9 387.6M623.5 387.9L627.9 390.8L637.6 382.7M629.9 389.1L626.9 387.2M644.5 388.1L649.0 390.9L658.5 382.6M651.0 389.2L647.9 387.3M665.5 387.9L669.9 390.8L679.6 382.7M671.9 389.1L668.9 387.2M686.4 387.0L690.5 390.3L701.0 383.2M692.7 388.8L689.9 386.6M707.8 389.5L712.7 391.6L720.8 381.9M714.4 389.6L711.1 388.2M371.5 418.1L376.0 420.8L385.5 412.5M378.0 419.1L374.9 417.2M413.6 418.4L418.2 421.0L427.3 412.3M420.1 419.2L416.9 417.5M434.9 419.5L439.8 421.5L447.7 411.7M441.4 419.5L438.1 418.2M456.2 420.5L461.3 421.9L468.2 411.3M462.7 419.7L459.3 418.7M581.6 418.4L586.2 421.0L595.3 412.3M588.1 419.2L584.9 417.5M602.4 417.1L606.7 420.3L616.8 412.9M608.8 418.8L605.9 416.6M623.5 417.6L627.9 420.6L637.6 412.7M629.9 419.0L626.9 416.9M644.4 417.5L648.8 420.5L658.7 412.8M650.8 418.9L647.9 416.8M665.4 417.3L669.7 420.4L679.8 412.8M671.8 418.9L668.9 416.7M686.7 419.1L691.5 421.3L700.0 412.0M693.3 419.4L690.0 417.9M707.7 419.1L712.5 421.3L721.0 412.0M714.3 419.4L711.0 417.9M729.2 420.5L734.3 421.9L741.2 411.3M735.7 419.7L732.3 418.7M350.4 447.0L354.8 450.1L364.7 442.4M356.8 448.5L353.9 446.4M392.4 447.0L396.7 450.1L406.8 442.5M398.8 448.5L395.9 446.4M413.7 448.4L418.4 450.8L427.1 441.7M420.2 448.9L417.0 447.3M435.2 450.0L440.2 451.5L447.3 441.1M441.7 449.3L438.2 448.3M581.6 448.1L586.2 450.7L595.3 441.9M588.1 448.8L584.9 447.1M602.4 447.1L606.8 450.2L616.7 442.4M608.8 448.6L605.9 446.5M623.5 447.3L627.9 450.2L637.6 442.3M629.9 448.6L626.9 446.6M644.9 449.2L649.8 451.2L657.7 441.4M651.4 449.2L648.1 447.8M665.6 447.9L670.1 450.6L679.4 442.0M672.0 448.8L668.9 447.0M708.8 451.2L714.1 452.0L719.4 440.6M729.7 451.0L734.9 451.9L740.6 440.7M371.4 475.9L375.5 479.2L386.0 472.2M377.7 477.8L374.9 475.5M392.4 476.1L396.6 479.3L406.9 472.1M398.7 477.8L395.9 475.6M413.7 478.2L418.5 480.4L427.0 471.0M420.3 478.5L417.0 476.9M581.6 477.4L586.1 480.0L595.4 471.4M588.0 478.2L584.9 476.4M602.5 476.7L606.9 479.7L616.6 471.7M608.9 478.0L605.9 476.0M623.5 476.7L627.9 479.7L637.6 471.7M629.9 478.0L626.9 476.0M644.6 477.4L649.1 480.0L658.4 471.4M651.0 478.2L647.9 476.4M665.5 477.2L670.1 479.9L679.4 471.5M672.0 478.2L668.9 476.3M371.5 503.3L375.0 507.4L386.5 502.5M377.3 506.4L375.0 503.6M392.7 507.1L397.4 509.5L406.1 500.4M399.2 507.6L396.0 506.0M413.9 508.0L418.9 509.9L426.6 500.0M420.5 507.8L417.1 506.6M561.2 508.8L566.3 510.2L573.2 499.6M567.7 508.0L564.3 507.0M582.4 509.2L587.6 510.4L593.9 499.5M623.5 506.4L628.1 509.1L637.4 500.7M630.0 507.4L626.9 505.6M644.6 506.9L649.3 509.4L658.2 500.5M651.1 507.5L648.0 505.9M854.8 507.7L859.7 509.8L867.8 500.1M861.4 507.8L858.1 506.4M896.4 505.0L900.5 508.4L911.0 501.5M902.6 506.9L899.9 504.6M917.6 503.0L920.9 507.2L932.6 502.7M923.3 506.3L921.1 503.4M371.4 534.5L375.7 537.7L385.8 530.2M377.8 536.1L374.9 534.0M392.7 536.1L397.4 538.5L406.1 529.4M399.2 536.6L396.0 535.0M414.1 537.5L419.1 539.1L426.4 528.8M420.6 537.0L417.2 535.9M623.8 536.7L628.7 538.8L636.8 529.1M630.4 536.8L627.1 535.4M645.3 537.9L650.4 539.3L657.1 528.6M651.8 537.1L648.3 536.2M771.1 537.5L776.1 539.1L783.4 528.8M777.6 537.0L774.2 535.9M791.4 533.6L795.3 537.2L806.2 530.7M797.6 535.9L794.9 533.4M812.4 534.6L816.7 537.7L826.8 530.2M818.8 536.2L815.9 534.1M833.8 536.7L838.7 538.8L846.8 529.1M840.4 536.8L837.1 535.4M854.8 536.7L859.7 538.8L867.8 529.1M861.4 536.8L858.1 535.4M875.6 535.8L880.2 538.3L889.3 529.6M882.1 536.5L878.9 534.8M896.6 535.9L901.3 538.4L910.2 529.5M903.1 536.6L900.0 534.9M918.4 538.1L923.5 539.4L930.0 528.6M350.5 564.4L355.1 567.1L364.4 558.5M357.0 565.3L353.9 563.5M371.5 564.3L376.1 567.0L385.4 558.6M378.0 565.2L374.9 563.4M392.6 564.7L397.3 567.2L406.2 558.3M399.1 565.4L396.0 563.7M413.9 565.8L418.9 567.7L426.6 557.8M420.5 565.7L417.1 564.4M624.4 567.0L629.6 568.2L635.9 557.3M371.7 593.8L376.5 596.1L385.0 586.7M378.3 594.1L375.0 592.6M393.2 595.1L398.2 596.6L405.3 586.2M399.7 594.5L396.2 593.4M413.9 594.3L418.8 596.3L426.7 586.5M420.4 594.3L417.1 592.9M749.7 589.0L752.8 593.3L764.7 589.4M755.2 592.5L753.2 589.6M770.5 590.1L774.0 594.1L785.5 588.7M776.4 593.0L774.0 590.3M791.4 592.1L795.7 595.2L805.8 587.6M797.8 593.6L794.9 591.5M350.9 622.8L355.8 624.7L363.7 614.9M357.4 622.7L354.1 621.4M371.9 622.7L376.8 624.7L384.7 614.9M378.4 622.7L375.1 621.3M393.1 623.3L398.1 625.0L405.4 614.7M399.6 622.9L396.2 621.7M414.8 624.7L420.0 625.5L425.5 614.2M604.1 625.2L609.4 625.7L614.1 614.0M666.1 623.3L671.1 625.0L678.4 614.7M672.6 622.9L669.2 621.7M686.7 622.0L691.4 624.4L700.1 615.3M693.2 622.5L690.0 620.9M707.6 621.8L712.3 624.3L721.2 615.4M714.1 622.4L711.0 620.7M728.4 620.2L732.6 623.4L742.9 616.2M734.7 621.9L731.9 619.7M749.4 620.7L753.8 623.7L763.7 615.9M755.8 622.1L752.9 620.0M372.0 651.3L377.0 653.1L384.5 643.0M378.5 651.0L375.1 649.8M393.8 653.0L399.1 653.8L404.4 642.4M582.2 651.9L587.3 653.3L594.2 642.8M588.7 651.2L585.3 650.2M603.0 651.4L608.0 653.2L615.5 643.0M609.6 651.1L606.2 649.9M623.6 649.7L628.1 652.4L637.4 643.8M630.0 650.6L626.9 648.8M644.9 651.1L649.9 653.0L657.6 643.1M651.5 651.0L648.1 649.7M666.7 652.8L671.9 653.7L677.6 642.5M688.6 654.1L693.9 654.1L697.6 642.0M710.5 655.0L715.8 654.3L717.7 641.8M624.8 681.0L630.0 681.8L635.5 670.5"/>
</g>
<rect x="48.6" y="24.5" width="438.9" height="100.5" fill="#fff" fill-opacity="0.8"/>
</g>
<rect x="48.6" y="24.5" width="1007.9" height="719.9" fill="none" stroke="#000" stroke-width="1.25"/>
<text x="57.6" y="66.8" font-size="40">ICECON Index</text>
<text x="57.6" y="111.6" font-size="40">2023-Jan-22 at 01:00</text>
<text x="1045" y="50" font-size="20.12" text-anchor="end">Model Run: 2023-01-21T12:00:00Z</text>
<text x="1045" y="72" font-size="20.12" text-anchor="end">Forecast Hour: 13</text>
<text class="tick" x="40.9" y="69.8" text-anchor="end">50°N</text>
<text class="tick" x="1060.8" y="69.8">50°N</text>
<text class="tick" x="40.9" y="222.8" text-anchor="end">48°N</text>
<text class="tick" x="1060.8" y="222.8">48°N</text>
<text class="tick" x="40.9" y="369.8" text-anchor="end">46°N</text>
<text class="tick" x="1060.8" y="369.8">46°N</text>
<text class="tick" x="40.9" y="511.8" text-anchor="end">44°N</text>
<text class="tick" x="1060.8" y="511.8">44°N</text>
<text class="tick" x="40.9" y="649.8" text-anchor="end">42°N</text>
<text class="tick" x="1060.8" y="649.8">42°N</text>
<text class="tick" x="149.0" y="760.8" text-anchor="middle">92°W</text>
<text class="tick" x="250.0" y="760.8" text-anchor="middle">90°W</text>
<text class="tick" x="351.0" y="760.8" text-anchor="middle">88°W</text>
<text class="tick" x="452.0" y="760.8" text-anchor="middle">86°W</text>
<text class="tick" x="552.0" y="760.8" text-anchor="middle">84°W</text>
<text class="tick" x="653.0" y="760.8" text-anchor="middle">82°W</text>
<text class="tick" x="754.0" y="760.8" text-anchor="middle">80°W</text>
<text class="tick" x="855.0" y="760.8" text-anchor="middle">78°W</text>
<text class="tick" x="956.0" y="760.8" text-anchor="middle">76°W</text>
<rect x="995" y="528.00" width="20" height="33.95" fill="#e60000"/>
<rect x="995" y="561.65" width="20" height="33.95" fill="#ff7f00"/>
<rect x="995" y="595.30" width="20" height="33.95" fill="#ffd700"/>
<rect x="995" y="628.95" width="20" height="33.95" fill="#9ab80a"/>
<rect x="995" y="662.60" width="20" height="33.95" fill="#14820a"/>
<rect x="995" y="696.25" width="20" height="33.95" fill="#46b4fa"/>
<line x1="1015.5" x2="1019.5" y1="544.83" y2="544.83" stroke="#000" stroke-width="1"/>
<text class="cbt" x="1023" y="548.83">5</text>
<line x1="1015.5" x2="1019.5" y1="578.48" y2="578.48" stroke="#000" stroke-width="1"/>
<text class="cbt" x="1023" y="582.48">4</text>
<line x1="1015.5" x2="1019.5" y1="612.12" y2="612.12" stroke="#000" stroke-width="1"/>
<text class="cbt" x="1023" y="616.12">3</text>
<line x1="1015.5" x2="1019.5" y1="645.77" y2="645.77" stroke="#000" stroke-width="1"/>
<text class="cbt" x="1023" y="649.77">2</text>
<line x1="1015.5" x2="1019.5" y1="679.42" y2="679.42" stroke="#000" stroke-width="1"/>
<text class="cbt" x="1023" y="683.42">1</text>
<line x1="1015.5" x2="1019.5" y1="713.08" y2="713.08" stroke="#000" stroke-width="1"/>
<text class="cbt" x="1023" y="717.08">0</text>
<text font-size="12.9" transform="translate(1042.3,630.8) rotate(-90)" text-anchor="middle">ICECON Index</text>
<g class="logo"><rect x="55" y="695" width="225.4" height="43.8" fill="url(#lg)"/>
<g clip-path="url(#lgc)"><g transform="translate(52,692) scale(0.08157)">
<circle cx="542" cy="532" r="434" fill="url(#gl)"/>
<g fill="none" stroke="#9fb6d8" stroke-opacity="0.35" stroke-width="3">
<ellipse cx="542" cy="215" rx="115" ry="62"/><ellipse cx="542" cy="250" rx="225" ry="125"/><ellipse cx="542" cy="320" rx="330" ry="200"/><ellipse cx="542" cy="420" rx="410" ry="290"/>
<path d="M542 210L542 100M542 210L400 125M542 210L690 125M542 210L270 200M542 210L820 205M542 210L170 330M542 210L920 330M542 210L130 520M542 210L960 520M542 210L300 580M542 210L790 580M542 210L450 580M542 210L640 580"/>
</g>
<path d="M215 345L250 300L300 285L330 262L365 275L385 300L400 350L415 385L450 400L480 385L505 365L535 380L520 410L540 440L575 450L600 480L640 500L680 485L700 520L740 510L780 480L800 500L795 540L760 560L700 580L320 580L305 480L262 400L232 382Z" fill="#e9f3fc"/>
<path d="M330 300L380 310L420 400L470 440L520 500L600 575L330 575L318 470Z" fill="#cfe4f8" opacity="0.8"/>
<path d="M640 300L690 265L700 330L680 400L640 420L620 370ZM540 330L600 320L610 380L560 400Z" fill="#dfe9f5"/>
<path d="M700 262L750 208L800 250L850 300L890 350L910 420L920 480L880 500L850 470L800 420L760 372L728 350L700 340Z" fill="#eef6fd"/>
<path d="M760 300L840 330L880 400L900 470L860 455L800 400Z" fill="#cfe4f8" opacity="0.7"/>
<path d="M480 400L520 385L545 420L530 450L570 470L560 500L600 520L590 470L620 450L650 480L640 520L680 540L670 500L700 470L720 520L760 540L740 500L720 460L700 420L720 360L760 380L820 440L850 480L800 490L760 440L730 400L700 380L690 420L660 400L640 430L610 410L590 440L560 410L540 390L510 420Z" fill="#0b1836" opacity="0.9"/>
</g></g>
<text x="133" y="716.2" font-size="21.6" textLength="141" lengthAdjust="spacingAndGlyphs" style="fill:#1d4f91">ARCTIC DOMAIN</text>
<text x="134" y="730.1" font-size="10.3" textLength="140" lengthAdjust="spacing" style="fill:#6c88cc">AWARENESS CENTER</text>
<line x1="134" x2="273.5" y1="732.6" y2="732.6" stroke="#2a3f70" stroke-width="0.45"/>
<text x="133.5" y="738.2" font-size="4.5" textLength="140" lengthAdjust="spacingAndGlyphs" style="fill:#223a6a">A DEPARTMENT OF HOMELAND SECURITY CENTER OF EXCELLENCE</text>
</g>
<g class="red">
<text x="286" y="705.7">This product is totally model based and should not be treated as fact. Currently only for USCG/USNIC internal evaluation.</text>
<text x="286" y="720.3">Forecast only for the five lakes. No data for connecting waterways.</text>
<text x="286" y="734.9">Model input data credit: WCPS from ECCC</text>
</g>
</svg></body></html>
